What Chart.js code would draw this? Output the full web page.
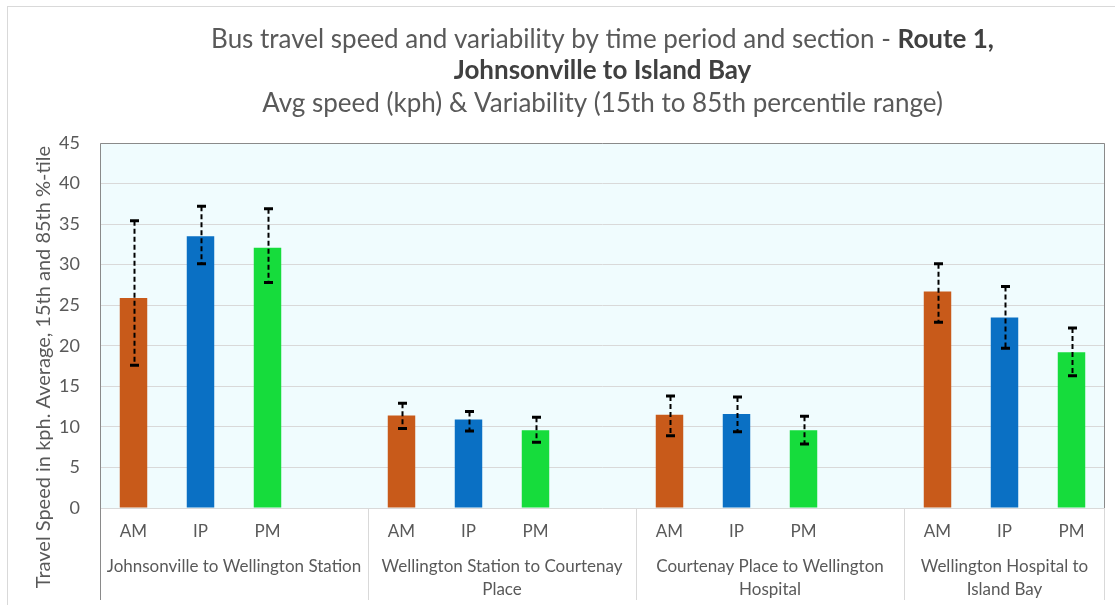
<!DOCTYPE html>
<html>
<head>
<meta charset="utf-8">
<script src="https://cdn.jsdelivr.net/npm/chart.js@4/dist/chart.umd.min.js"></script>
<style>
html,body{margin:0;padding:0;background:#fff;overflow:hidden;}
#wrap{position:relative;width:1115px;height:605px;}
</style>
</head>
<body>
<div id="wrap"><canvas id="c" width="1115" height="605"></canvas></div>
<script>
// ---- data ----
const sections = [
  ["Johnsonville to Wellington Station"],
  ["Wellington Station to Courtenay", "Place"],
  ["Courtenay Place to Wellington", "Hospital"],
  ["Wellington Hospital to", "Island Bay"]
];
const periods = ["AM", "IP", "PM"];
const avgAM = [25.9, 11.4, 11.5, 26.7];
const avgIP = [33.5, 10.9, 11.6, 23.5];
const avgPM = [32.1, 9.6, 9.6, 19.2];
const p15AM = [17.6, 9.8, 8.9, 22.9];
const p15IP = [30.1, 9.5, 9.4, 19.7];
const p15PM = [27.8, 8.1, 7.9, 16.3];
const p85AM = [35.4, 12.9, 13.8, 30.1];
const p85IP = [37.2, 11.9, 13.7, 27.3];
const p85PM = [36.9, 11.2, 11.3, 22.2];
const yTicks = [0, 5, 10, 15, 20, 25, 30, 35, 40, 45];
const colors = ["#c85a1a", "#0a70c4", "#16dc3c"];

const FONT = "Lato, 'Open Sans', sans-serif";
const TXT = "#595959";

// build slot labels: AM IP PM (blank) per section, last section without blank
const labels = [];
const slotSection = [];
sections.forEach((s, si) => {
  periods.forEach(p => { labels.push(p); slotSection.push(si); });
  if (si < sections.length - 1) { labels.push(""); slotSection.push(si); }
});
const avgs = [avgAM, avgIP, avgPM];
const lows = [p15AM, p15IP, p15PM];
const highs = [p85AM, p85IP, p85PM];

function slotIndex(si, pi) { return si * 4 + pi; }

const datasets = periods.map((p, pi) => {
  const d = new Array(labels.length).fill(null);
  const lo = new Array(labels.length).fill(null);
  const hi = new Array(labels.length).fill(null);
  sections.forEach((s, si) => {
    const k = slotIndex(si, pi);
    d[k] = avgs[pi][si]; lo[k] = lows[pi][si]; hi[k] = highs[pi][si];
  });
  return {
    label: p, data: d, lo: lo, hi: hi,
    backgroundColor: colors[pi],
    borderWidth: 0,
    barPercentage: 0.41,
    categoryPercentage: 1.0,
    grouped: false
  };
});

const bgPlugin = {
  id: 'bg',
  beforeDraw(chart) {
    const ctx = chart.ctx, a = chart.chartArea;
    ctx.save();
    ctx.fillStyle = '#ffffff';
    ctx.fillRect(0, 0, chart.width, chart.height);
    ctx.strokeStyle = '#d9d9d9';
    ctx.lineWidth = 1;
    ctx.strokeRect(7.5, 6.5, 1130, 620);
    ctx.fillStyle = '#f0fcfe';
    ctx.fillRect(a.left, a.top, a.right - a.left, a.bottom - a.top);
    ctx.restore();
  }
};

const overlayPlugin = {
  id: 'overlay',
  afterDatasetsDraw(chart) {
    const ctx = chart.ctx, y = chart.scales.y;
    ctx.save();
    chart.data.datasets.forEach((ds, di) => {
      const meta = chart.getDatasetMeta(di);
      meta.data.forEach((bar, i) => {
        if (ds.data[i] == null) return;
        const x = Math.round(bar.x) + 0.5;
        const yl = y.getPixelForValue(ds.lo[i]);
        const yh = y.getPixelForValue(ds.hi[i]);
        ctx.strokeStyle = '#000';
        ctx.lineWidth = 2;
        ctx.setLineDash([5, 3]);
        ctx.beginPath(); ctx.moveTo(x, yh); ctx.lineTo(x, yl); ctx.stroke();
        ctx.setLineDash([]);
        ctx.lineWidth = 3;
        ctx.beginPath();
        ctx.moveTo(x - 4.5, yh); ctx.lineTo(x + 4.5, yh);
        ctx.moveTo(x - 4.5, yl); ctx.lineTo(x + 4.5, yl);
        ctx.stroke();
      });
    });
    ctx.restore();
  },
  afterDraw(chart) {
    const ctx = chart.ctx, a = chart.chartArea, xs = chart.scales.x;
    ctx.save();
    // plot border
    ctx.strokeStyle = '#8a8a8a';
    ctx.lineWidth = 1;
    ctx.beginPath();
    ctx.moveTo(a.left + 0.5, a.bottom); ctx.lineTo(a.left + 0.5, a.top + 0.5);
    ctx.lineTo(a.right - 0.5, a.top + 0.5); ctx.lineTo(a.right - 0.5, a.bottom);
    ctx.stroke();
    // group dividers below axis
    const half = (xs.getPixelForValue(1) - xs.getPixelForValue(0)) / 2;
    ctx.strokeStyle = '#d9d9d9';
    const bounds = [];
    let start = 0;
    sections.forEach((s, si) => {
      let end = start;
      while (end + 1 < labels.length && slotSection[end + 1] === si) end++;
      bounds.push([xs.getPixelForValue(start) - half, xs.getPixelForValue(end) + half]);
      start = end + 1;
    });
    ctx.beginPath();
    bounds.forEach((b, i) => {
      const xx = Math.round(b[0]) + 0.5;
      ctx.moveTo(xx, a.bottom); ctx.lineTo(xx, 600);
    });
    const xr = Math.round(bounds[bounds.length - 1][1]) - 0.5;
    ctx.moveTo(xr, a.bottom); ctx.lineTo(xr, 600);
    ctx.stroke();
    ctx.strokeStyle = '#8a8a8a';
    ctx.beginPath(); ctx.moveTo(a.left + 0.5, a.bottom); ctx.lineTo(a.left + 0.5, 600); ctx.stroke();
    // group labels
    ctx.fillStyle = TXT;
    ctx.font = "17px " + FONT;
    ctx.textAlign = 'center';
    ctx.textBaseline = 'middle';
    sections.forEach((s, si) => {
      const cx = (bounds[si][0] + bounds[si][1]) / 2;
      s.forEach((line, li) => ctx.fillText(line, cx, 567 + li * 23));
    });
    // y title
    ctx.save();
    ctx.translate(44, 367);
    ctx.rotate(-Math.PI / 2);
    ctx.font = "20px " + FONT;
    ctx.fillText("Travel Speed in kph. Average, 15th and 85th %-tile", 0, 0);
    ctx.restore();
    // main title
    const cx = (a.left + a.right) / 2;
    const p1 = "Bus travel speed and variability by time period and section - ";
    const p2 = "Route 1,";
    ctx.textAlign = 'left';
    ctx.font = "26px " + FONT;
    const w1 = ctx.measureText(p1).width;
    ctx.font = "bold 26px " + FONT;
    const w2 = ctx.measureText(p2).width;
    let x0 = cx - (w1 + w2) / 2;
    ctx.font = "26px " + FONT; ctx.fillStyle = TXT;
    ctx.fillText(p1, x0, 40);
    ctx.font = "bold 26px " + FONT; ctx.fillStyle = '#404040';
    ctx.fillText(p2, x0 + w1, 40);
    ctx.textAlign = 'center';
    ctx.fillText("Johnsonville to Island Bay", cx, 71);
    ctx.font = "26px " + FONT; ctx.fillStyle = TXT;
    ctx.fillText("Avg speed (kph) & Variability (15th to 85th percentile range)", cx, 104);
    ctx.restore();
  }
};

new Chart(document.getElementById('c'), {
  type: 'bar',
  data: { labels: labels, datasets: datasets },
  plugins: [bgPlugin, overlayPlugin],
  options: {
    responsive: false,
    animation: false,
    devicePixelRatio: 1,
    layout: { padding: { left: 7, right: 10, top: 143, bottom: 0 } },
    plugins: { legend: { display: false }, title: { display: false }, tooltip: { enabled: false } },
    scales: {
      x: {
        grid: { display: false, drawTicks: false },
        border: { display: false },
        ticks: { color: TXT, font: { size: 17, family: FONT }, padding: 13, maxRotation: 0, autoSkip: false },
        afterFit(s) { s.height = 97; }
      },
      y: {
        min: 0, max: 45,
        afterBuildTicks(s) { s.ticks = yTicks.map(v => ({ value: v })); },
        grid: { color: '#d9d9d9', drawTicks: false, lineWidth: 1 },
        border: { display: false },
        ticks: { color: TXT, font: { size: 18, family: FONT }, padding: 20 },
        afterFit(s) { s.width = 93; }
      }
    }
  }
});
</script>
</body>
</html>
